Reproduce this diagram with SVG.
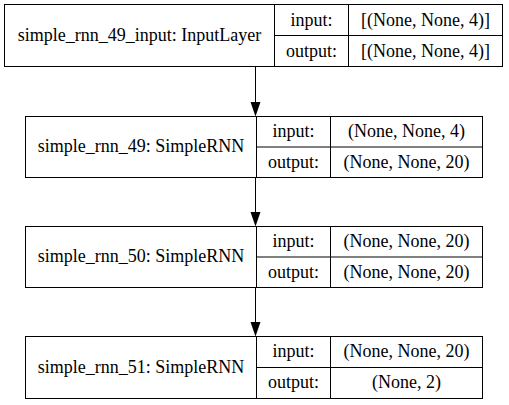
<svg xmlns="http://www.w3.org/2000/svg" width="509" height="405" viewBox="0 0 509 405">
<style>
.box{fill:#fff;stroke:#000;stroke-width:1}
.ln{stroke:#000;stroke-width:1;fill:none}
.t{font-family:'Liberation Serif','Times New Roman',serif;font-size:18px;fill:#000;text-anchor:middle}
</style>
<rect width="509" height="405" fill="#fff"/>
<g id="connectors">
<line class="ln" x1="255.5" y1="66.5" x2="255.5" y2="102" />
<path d="M250.5,102 L260.5,102 L255.5,116.5 Z" fill="#000"/>
<line class="ln" x1="255.5" y1="177.5" x2="255.5" y2="212" />
<path d="M250.5,212 L260.5,212 L255.5,226.5 Z" fill="#000"/>
<line class="ln" x1="255.5" y1="287.5" x2="255.5" y2="322" />
<path d="M250.5,322 L260.5,322 L255.5,336.5 Z" fill="#000"/>
</g>
<g id="n1" class="t">
<rect class="box" x="4.5" y="4.5" width="498" height="62"/>
<line class="ln" x1="274.5" y1="4.5" x2="274.5" y2="66.5"/>
<line class="ln" x1="348.5" y1="4.5" x2="348.5" y2="66.5"/>
<line class="ln" x1="274.5" y1="35.5" x2="502.5" y2="35.5"/>
<text x="139.5" y="41">simple_rnn_49_input: InputLayer</text>
<text x="311.5" y="25.5">input:</text>
<text x="311.5" y="56.5">output:</text>
<text x="425.5" y="25.5">[(None, None, 4)]</text>
<text x="425.5" y="56.5">[(None, None, 4)]</text>
</g>
<g id="n2" class="t">
<rect class="box" x="25.5" y="116.5" width="457" height="61"/>
<line class="ln" x1="256.5" y1="116.5" x2="256.5" y2="177.5"/>
<line class="ln" x1="330.5" y1="116.5" x2="330.5" y2="177.5"/>
<line class="ln" x1="256.5" y1="147" x2="482.5" y2="147"/>
<text x="141" y="152">simple_rnn_49: SimpleRNN</text>
<text x="293.5" y="136.5">input:</text>
<text x="293.5" y="167.5">output:</text>
<text x="406.5" y="136.5">(None, None, 4)</text>
<text x="406.5" y="167.5">(None, None, 20)</text>
</g>
<g id="n3" class="t">
<rect class="box" x="25.5" y="226.5" width="457" height="61"/>
<line class="ln" x1="256.5" y1="226.5" x2="256.5" y2="287.5"/>
<line class="ln" x1="330.5" y1="226.5" x2="330.5" y2="287.5"/>
<line class="ln" x1="256.5" y1="257" x2="482.5" y2="257"/>
<text x="141" y="262">simple_rnn_50: SimpleRNN</text>
<text x="293.5" y="246.5">input:</text>
<text x="293.5" y="277.5">output:</text>
<text x="406.5" y="246.5">(None, None, 20)</text>
<text x="406.5" y="277.5">(None, None, 20)</text>
</g>
<g id="n4" class="t">
<rect class="box" x="25.5" y="336.5" width="457" height="62"/>
<line class="ln" x1="256.5" y1="336.5" x2="256.5" y2="398.5"/>
<line class="ln" x1="330.5" y1="336.5" x2="330.5" y2="398.5"/>
<line class="ln" x1="256.5" y1="367.5" x2="482.5" y2="367.5"/>
<text x="141" y="372.5">simple_rnn_51: SimpleRNN</text>
<text x="293.5" y="357">input:</text>
<text x="293.5" y="388">output:</text>
<text x="406.5" y="357">(None, None, 20)</text>
<text x="406.5" y="388">(None, 2)</text>
</g>
</svg>
